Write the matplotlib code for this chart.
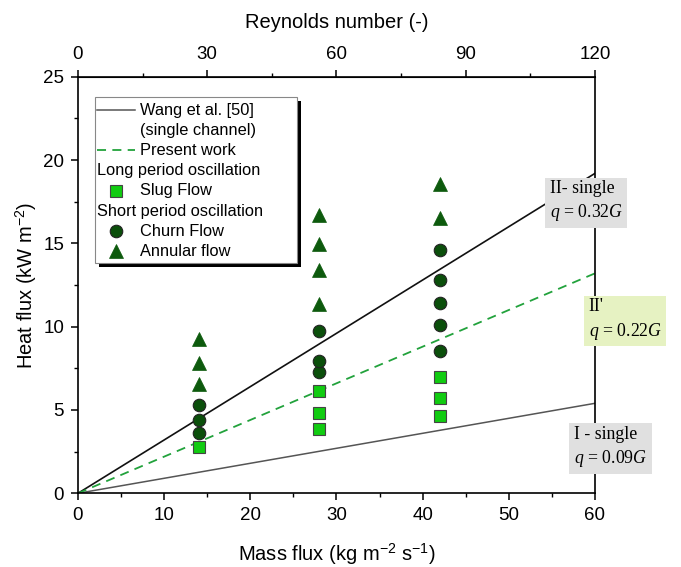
import numpy as np
import matplotlib
matplotlib.use("Agg")
from matplotlib import pyplot as plt
from matplotlib.patches import Rectangle
from matplotlib.ticker import MultipleLocator, FixedLocator

plt.rcParams["font.family"] = ["Liberation Sans", "DejaVu Sans"]
plt.rcParams["mathtext.fontset"] = "custom"
plt.rcParams["mathtext.rm"] = "Liberation Sans"
plt.rcParams["mathtext.it"] = "Liberation Serif:italic"

# flow regime observations: mass flux G (kg m-2 s-1) vs heat flux (kW m-2)
slug_G = [14, 28, 28, 28, 42, 42, 42]
slug_q = [2.75, 3.83, 4.83, 6.16, 4.62, 5.70, 7.00]
churn_G = [14, 14, 14, 28, 28, 28, 42, 42, 42, 42, 42]
churn_q = [3.59, 4.37, 5.32, 7.26, 7.95, 9.75, 8.55, 10.11, 11.44, 12.80, 14.63]
annular_G = [14, 14, 14, 28, 28, 28, 28, 42, 42]
annular_q = [6.58, 7.83, 9.27, 11.35, 13.38, 14.99, 16.73, 16.53, 18.56]

# transition lines q = k*G
slope_I = 0.09
slope_II = 0.32
slope_present = 0.22
G_line = np.array([0, 60])

re_ticks = [0, 30, 60, 90, 120]
re_minor = [15, 45, 75, 105]

fig, ax = plt.subplots(figsize=(6.81, 5.67), dpi=100)
fig.subplots_adjust(left=0.1145, right=0.8737, bottom=0.130, top=0.8647)

ax.plot(G_line, slope_I * G_line, color="#555555", lw=1.1, zorder=2)
ax.plot(G_line, slope_II * G_line, color="#111111", lw=1.2, zorder=2)
ax.plot(G_line, slope_present * G_line, color="#22a23c", lw=1.3,
        dashes=(5, 3.5), zorder=2)

ax.plot(slug_G, slug_q, ls="none", marker="s", ms=8.5, mfc="#11cc11",
        mec="#444444", mew=0.8, zorder=3)
ax.plot(churn_G, churn_q, ls="none", marker="o", ms=9, mfc="#0b4f0b",
        mec="#222222", mew=0.8, zorder=3)
ax.plot(annular_G, annular_q, ls="none", marker="^", ms=10, mfc="#0d5a0d",
        mec="#0d5a0d", mew=0.5, zorder=3)

ax.set_xlim(0, 60)
ax.set_ylim(0, 25)
ax.xaxis.set_major_locator(MultipleLocator(10))
ax.xaxis.set_minor_locator(MultipleLocator(5))
ax.yaxis.set_major_locator(MultipleLocator(5))
ax.yaxis.set_minor_locator(MultipleLocator(2.5))
ax.tick_params(which="major", direction="out", length=5, width=1.1,
               labelsize=13.5, pad=5)
ax.tick_params(which="minor", direction="out", length=3, width=1.0)
for sp in ax.spines.values():
    sp.set_linewidth(1.2)

ax.set_xlabel("Mass flux (kg m$^{-2}$ s$^{-1}$)", fontsize=14.5, labelpad=13)
ax.set_ylabel("Heat flux (kW m$^{-2}$)", fontsize=14.5, labelpad=3)

top = ax.secondary_xaxis("top", functions=(lambda g: 2 * g, lambda r: r / 2))
top.xaxis.set_major_locator(FixedLocator(re_ticks))
top.xaxis.set_minor_locator(FixedLocator(re_minor))
top.tick_params(which="major", direction="out", length=5, width=1.1,
                labelsize=13.5, pad=5)
top.tick_params(which="minor", direction="out", length=3, width=1.0)
top.set_xlabel("Reynolds number (-)", fontsize=14.5, labelpad=13)

# legend with section headers, drawn in axes coordinates
lx0, lx1, ly0, ly1 = 0.033, 0.424, 0.553, 0.951
ax.add_patch(Rectangle((lx0 + 0.008, ly0 - 0.010), lx1 - lx0, ly1 - ly0,
                       transform=ax.transAxes, fc="black", ec="none", zorder=5))
ax.add_patch(Rectangle((lx0, ly0), lx1 - lx0, ly1 - ly0, transform=ax.transAxes,
                       fc="white", ec="#888888", lw=0.8, zorder=6))
row_top, row_step = 0.920, 0.0485
hx0, hx1, mx, tx, sx = 0.037, 0.110, 0.074, 0.120, 0.037
rows = [
    ("line", "Wang et al. [50]"),
    (None, "(single channel)"),
    ("dash", "Present work"),
    ("head", "Long period oscillation"),
    ("s", "Slug Flow"),
    ("head", "Short period oscillation"),
    ("o", "Churn Flow"),
    ("^", "Annular flow"),
]
for i, (kind, label) in enumerate(rows):
    y = row_top - i * row_step
    x_text = sx if kind == "head" else tx
    ax.text(x_text, y, label, transform=ax.transAxes, fontsize=11.8,
            va="center", ha="left", zorder=7)
    if kind == "line":
        ax.plot([hx0, hx1], [y, y], transform=ax.transAxes, color="#555555",
                lw=1.1, zorder=7)
    elif kind == "dash":
        ax.plot([hx0, hx1], [y, y], transform=ax.transAxes, color="#22a23c",
                lw=1.3, dashes=(5, 3.5), zorder=7)
    elif kind == "s":
        ax.plot([mx], [y], transform=ax.transAxes, marker="s", ms=8,
                mfc="#11cc11", mec="#444444", mew=0.8, zorder=7)
    elif kind == "o":
        ax.plot([mx], [y], transform=ax.transAxes, marker="o", ms=9,
                mfc="#0b4f0b", mec="#222222", mew=0.8, zorder=7)
    elif kind == "^":
        ax.plot([mx], [y], transform=ax.transAxes, marker="^", ms=10,
                mfc="#0d5a0d", mec="#0d5a0d", mew=0.5, zorder=7)

# regime labels next to the right axis
box_style = dict(boxstyle="square,pad=0.25", ec="none")
ax.text(54.75, 17.5, "II- single\n$q$ = 0.32$G$", fontsize=12.8,
        family="Liberation Serif", va="center", ha="left", linespacing=1.35,
        bbox=dict(fc="#e0e0e0", **box_style), clip_on=False, zorder=8)
ax.text(59.25, 10.4, "II'\n$q$ = 0.22$G$", fontsize=12.8,
        family="Liberation Serif", va="center", ha="left", linespacing=1.35,
        bbox=dict(fc="#e6f2c2", **box_style), clip_on=False, zorder=8)
ax.text(57.55, 2.75, "I - single\n$q$ = 0.09$G$", fontsize=12.8,
        family="Liberation Serif", va="center", ha="left", linespacing=1.35,
        bbox=dict(fc="#e0e0e0", **box_style), clip_on=False, zorder=8)

fig.savefig("out.png", dpi=100)
